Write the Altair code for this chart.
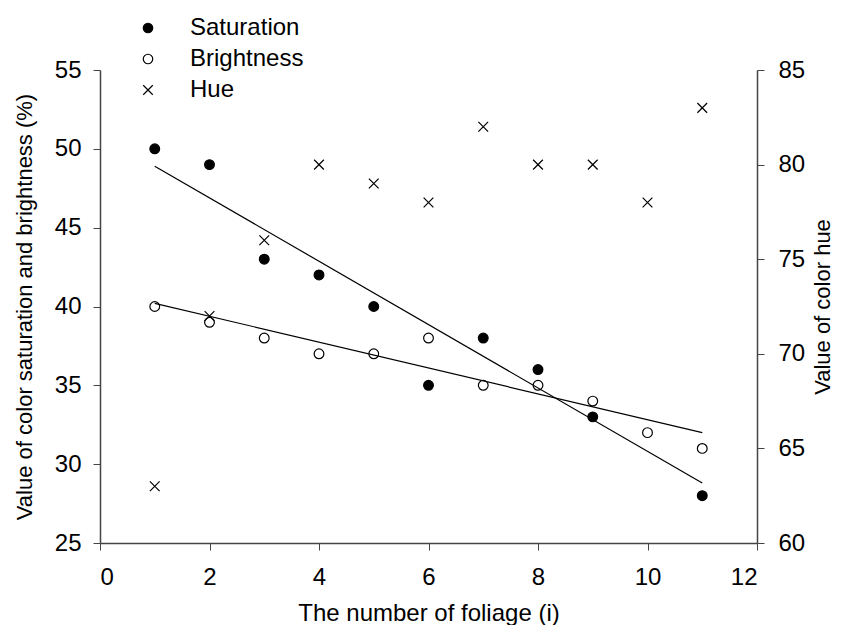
import altair as alt
import pandas as pd

foliage = [1, 2, 3, 4, 5, 6, 7, 8, 9, 10, 11]
saturation = [50, 49, 43, 42, 40, 35, 38, 36, 33, None, 28]
brightness = [40, 39, 38, 37, 37, 38, 35, 35, 34, 32, 31]
hue = [63, 72, 76, 80, 79, 78, 82, 80, 80, 78, 83]

fit_x = [1, 11]
sat_fit = [48.9, 28.8]
bright_fit = [40.2, 32.0]

series = ["Saturation", "Brightness", "Hue"]
x_path = "M-1,-1L1,1M-1,1L1,-1"

rows = []
for x, s, b in zip(foliage, saturation, brightness):
    if s is not None:
        rows.append({"x": x, "y": s, "series": "Saturation"})
    rows.append({"x": x, "y": b, "series": "Brightness"})
left_df = pd.DataFrame(rows)
hue_df = pd.DataFrame({"x": foliage, "y": hue, "series": "Hue"})
fit_df = pd.DataFrame(
    [{"x": x, "y": v, "line": "Saturation"} for x, v in zip(fit_x, sat_fit)]
    + [{"x": x, "y": v, "line": "Brightness"} for x, v in zip(fit_x, bright_fit)]
)

FONT = "Liberation Sans"

xscale = alt.Scale(domain=[0, 12], nice=False, zero=False)
xaxis = alt.Axis(values=[0, 2, 4, 6, 8, 10, 12], format="d",
                 title="The number of foliage (i)", titleFontSize=24,
                 titlePadding=12, labelPadding=15, tickSize=7)

shape_scale = alt.Scale(domain=series, range=["circle", "circle", x_path])
fill_scale = alt.Scale(domain=series, range=["black", "white", "transparent"])
stroke_scale = alt.Scale(domain=series, range=["black", "black", "black"])

legend = alt.Legend(title=None, orient="none", legendX=36, legendY=-54,
                    labelFontSize=24, labelFont=FONT, labelColor="black",
                    symbolSize=90, symbolStrokeWidth=1.2,
                    rowPadding=7, labelOffset=30)


def enc_common():
    return dict(
        shape=alt.Shape("series:N", scale=shape_scale, legend=legend),
        fill=alt.Fill("series:N", scale=fill_scale, legend=legend),
        stroke=alt.Stroke("series:N", scale=stroke_scale, legend=legend),
    )


left_pts = alt.Chart(left_df).mark_point(strokeWidth=1.2, opacity=1, size=95).encode(
    x=alt.X("x:Q", scale=xscale, axis=xaxis),
    y=alt.Y("y:Q", scale=alt.Scale(domain=[25, 55], nice=False, zero=False),
            axis=alt.Axis(values=[25, 30, 35, 40, 45, 50, 55],
                          title="Value of color saturation and brightness (%)",
                          titlePadding=18, labelPadding=12, tickSize=7)),
    **enc_common(),
)

fit_lines = alt.Chart(fit_df).mark_line(color="black", strokeWidth=1.2).encode(
    x=alt.X("x:Q", scale=xscale),
    y=alt.Y("y:Q"),
    detail="line:N",
)

hue_pts = alt.Chart(hue_df).mark_point(strokeWidth=1.2, opacity=1, size=95).encode(
    x=alt.X("x:Q", scale=xscale),
    y=alt.Y("y:Q", scale=alt.Scale(domain=[60, 85], nice=False, zero=False),
            axis=alt.Axis(orient="right", values=[60, 65, 70, 75, 80, 85],
                          title="Value of color hue", titlePadding=30, titleAngle=270,
                          labelPadding=14, tickSize=7)),
    **enc_common(),
)

left_layer = alt.layer(left_pts, fit_lines)

chart = alt.layer(left_layer, hue_pts).resolve_scale(y="independent").properties(
    width=657, height=473,
    autosize=alt.AutoSizeParams(type="none"),
    padding={"left": 92, "top": 62, "right": 79, "bottom": 82},
).configure_view(stroke=None).configure_axis(
    grid=False, domainColor="#444444", tickColor="#444444", domainWidth=1.5,
    labelFont=FONT, titleFont=FONT, labelFontSize=24, titleFontSize=22,
    labelColor="black", titleColor="black", titleFontWeight="normal",
)

chart.save("out.html", embed_options={"renderer": "svg", "actions": False})
